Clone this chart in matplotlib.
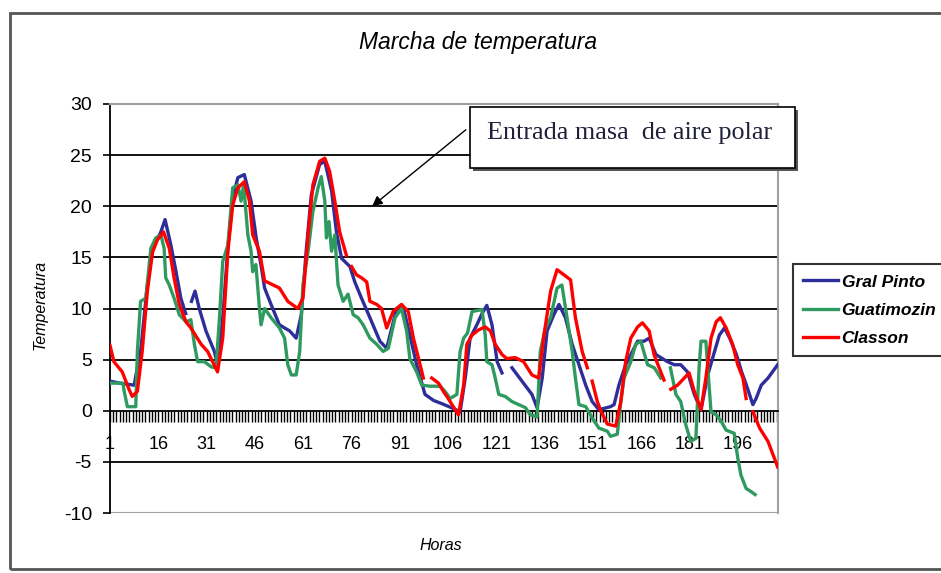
import matplotlib
matplotlib.use('Agg')
import matplotlib.pyplot as plt
from matplotlib.patches import Rectangle

plt.rcParams['axes.unicode_minus'] = False
nan = float('nan')

# hora (eje de categorias) y temperatura, por estacion
horas_pinto = [1, 4, 8.5, 10.6, 12.5, 14.2, 16.8, 18.1, 19.9, 21.5, 23, 24.5, 25.4, 26.3, 27.4, 28.7,
               30.8, 33.4, 34.4, 36, 37.6, 39.1, 40.7, 42.7, 44.8, 46.4, 48, 49, 51, 53.6, 56.8, 58.8,
               60.4, 61.9, 63.5, 66.1, 67.7, 69.8, 71.3, 72.9, 75.5, 77, 79.1, 81.7, 84.8, 86.9, 90,
               92, 94.1, 96.2, 98.8, 101.5, 104, 107, 109.7, 111.3, 112.8, 114.9, 116.5, 118, 119.6,
               121.2, 122.7, 123.8, 125.8, 128.9, 132, 133.6, 135.2, 136.7, 138.8, 140.4, 142.4, 144.5,
               146.6, 148.7, 150.7, 152.8, 156.4, 157.5, 159, 161.1, 163.2, 164.8, 166.8, 168.4, 170.5,
               172.5, 174.1, 176.2, 178.2, 180.3, 182.4, 184.5, 186.6, 188.7, 190.2, 191.8, 193.4,
               195.5, 197.1, 198.6, 200.6, 201.6, 203.2, 205.3, 208.3]
temp_pinto = [2.9, 2.7, 2.5, 6.1, 12.0, 15.8, 17.5, 18.7, 16.2, 13.6, 11.0, 9.5, nan, 10.7, 11.7, 10.0,
              7.8, 5.8, 4.5, 9.1, 16.0, 20.8, 22.8, 23.1, 20.5, 16.9, 14.0, 12.0, 10.4, 8.4, 7.8, 7.1,
              9.4, 15.6, 21.1, 24.1, 24.4, 21.5, 17.5, 14.9, 14.1, 12.6, 11.0, 9.1, 6.8, 6.1, 10.0,
              10.2, 7.4, 4.5, 1.6, 1.0, 0.7, 0.3, -0.1, 3.2, 7.1, 8.4, 9.5, 10.3, 8.4,
              4.8, 3.7, nan, 4.2, 2.9, 1.6, 0.3, 3.2, 7.8, 9.4, 10.4, 9.1, 6.5,
              4.5, 2.5, 0.9, 0.1, 0.4, 0.6, 2.5, 4.5, 5.8, 6.8, 6.8, 7.1, 5.5,
              5.1, 4.8, 4.5, 4.5, 3.8, 1.6, 0.1, 3.5, 5.8, 7.4, 8.1, 7.1,
              5.5, 3.8, 2.5, 0.6, 1.2, 2.5, 3.2, 4.5]

horas_guat = [1, 5, 5.4, 6.4, 9, 9.5, 10.5, 12.1, 13.7, 15.2, 16.8, 17.8, 18.3, 19.4, 20.9, 22.5,
              24.6, 26.1, 27.2, 28.2, 30.3, 32.4, 33.9, 35, 36, 37.6, 39.1, 40.7, 41.7, 42.5, 43.8,
              44.8, 45.3, 46.3, 47.4, 47.9, 49, 51, 53.6, 55.2, 56.2, 57.3, 58.8, 59.9, 60.9, 62.5,
              64, 65.6, 66.6, 67.7, 68.2, 69, 69.8, 70.8, 71.8, 73.4, 74.9, 76.5, 78, 79.6, 81.7,
              83.8, 85.8, 87.4, 89.5, 91.5, 93.1, 94.1, 96.2, 97.8, 100.4, 103.5, 105, 106.6, 108.7,
              109.7, 110.8, 112, 113.4, 114.9, 116.5, 117.5, 118, 119.6, 120.6, 121.7, 123.7, 125.8,
              127.9, 130, 131.5, 133.6, 134.6, 136.2, 137.8, 139.8, 141.3, 142.9, 144.5, 145.5,
              146.6, 148.7, 150.7, 152.8, 155.4, 156.4, 158.5, 159.6, 160.6, 162.7, 164.2, 165.8,
              167.9, 170, 172, 173.5, 175, 176.7, 178.2, 179.8, 181.3, 182.9, 183.9, 184.5, 186,
              186.6, 187.6, 189.2, 190.7, 192.3, 194.8, 195.9, 196.9, 198.5, 200, 201.3]
temp_guat = [2.7, 2.7, 1.9, 0.4, 0.4, 5.8, 10.7, 11.0, 15.9, 16.9, 17.2, 15.9, 13.0, 12.3, 11.0, 9.4,
             8.7, 8.9, 6.5, 4.8, 4.8, 4.3, 4.2, 9.1, 14.6, 16.2, 21.8, 22.1, 20.5, 22.1, 17.2,
             15.6, 13.6, 14.3, 10.0, 8.4, 10.0, 9.1, 8.1, 7.1, 4.5, 3.5, 3.5, 5.8, 12.3, 15.6,
             19.5, 21.8, 22.9, 20.5, 16.9, 18.5, 15.6, 17.2, 12.3, 10.7, 11.4, 9.4, 9.1, 8.4, 7.1,
             6.5, 5.8, 6.1, 9.1, 10.0, 7.8, 5.1, 3.8, 2.5, 2.4, 2.4, 1.9, 1.2, 1.6,
             5.8, 7.1, 7.6, 9.7, 9.8, 9.9, 7.4, 4.8, 4.5, 3.2, 1.6, 1.4, 0.9,
             0.6, 0.3, -0.4, -0.6, 5.8, 8.1, 9.1, 12.0, 12.3, 9.1, 5.8, 3.2,
             0.6, 0.4, -0.7, -1.7, -2.0, -2.5, -2.3, 0.9, 3.2, 4.8, 6.5, 6.8,
             4.5, 4.2, 3.2, nan, 4.2, 1.6, 0.9, -1.4, -3.0, -2.7, 4.2, 6.8, 6.8,
             4.2, -0.1, -0.4, -1.0, -1.9, -2.2, -4.6, -6.3, -7.6, -7.9, -8.2]

horas_classon = [1, 2.2, 4.8, 6.9, 7.9, 9.5, 11, 12.6, 14.2, 15.7, 17.6, 19.4, 20.9, 22.5, 24.6, 26.1,
                 29.3, 31.3, 34.4, 36, 37.6, 39.1, 40.7, 42.7, 44.3, 45.3, 47.4, 49, 51, 53.6, 56.2,
                 59.3, 60.9, 62.5, 64, 66.1, 67.7, 69.2, 70.8, 72.3, 74.4, 75.2, 76, 77.5, 79.1, 80.7,
                 81.7, 83.8, 85.3, 86.9, 88.9, 91.5, 93.6, 95.2, 96.8, 98.3, 99.5, 100.9, 103, 104.5,
                 106, 109.2, 110.8, 111.8, 113.4, 115.4, 117.5, 119.1, 120.6, 122.7, 124.2, 126.8,
                 129.4, 132, 134.1, 135.6, 137.8, 139.8, 141.9, 144, 145.5, 147.6, 149.2, 149.9, 150.7,
                 152.3, 153.5, 155.4, 158, 159.6, 161.1, 162.7, 164.8, 166.3, 168.4, 169.9, 171.5, 173,
                 174, 175.1, 177.2, 179.3, 180.8, 182.4, 184.5, 186, 187.6, 189.2, 190.5, 192.3, 194.3,
                 195.9, 197.5, 198.5, 199.5, 200.6, 202.7, 205.3, 208.3]
temp_classon = [6.4, 4.8, 3.8, 2.1, 1.4, 1.9, 5.8, 11.7, 15.5, 16.7, 17.5, 15.9, 13.0, 10.4, 8.7, 8.1,
                6.5, 5.8, 3.8, 7.1, 15.6, 20.1, 21.8, 22.4, 20.5, 17.2, 15.6, 12.7, 12.4, 12.0, 10.7,
                10.0, 11.0, 17.2, 22.1, 24.4, 24.7, 23.4, 20.5, 17.5, 15.2, nan, 14.1, 13.3, 13.0, 12.6,
                10.7, 10.4, 10.0, 8.1, 9.7, 10.4, 9.7, 7.1, 5.1, 3.2, nan, 3.2, 2.7, 1.9,
                1.2, -0.4, 2.5, 6.5, 7.4, 7.9, 8.2, 7.8, 6.5, 5.5, 5.1, 5.2,
                4.8, 3.5, 3.2, 7.1, 11.7, 13.8, 13.3, 12.8, 9.1, 5.8, 4.2, nan, 2.9,
                0.9, -0.1, -1.3, -1.5, 0.9, 4.8, 7.1, 8.2, 8.6, 7.8, 5.5, 4.2, 3.0,
                nan, 2.1, 2.5, 3.2, 3.7, 1.9, 0.1, 3.2, 7.1, 8.7, 9.1, 8.1, 6.5,
                4.5, 3.2, 1.2, nan, -0.1, -1.7, -3.0, -5.5]

etiquetas_x = list(range(1, 197, 15))
W, H = 941, 573

fig = plt.figure(figsize=(9.41, 5.73), dpi=100)
ax = fig.add_axes([110 / W, 1 - 513 / H, 668 / W, 409 / H])

# lineas de division horizontales
for y in [-5, 5, 10, 15, 20, 25]:
    ax.axhline(y, color='black', lw=1.3, zorder=1)
ax.axhline(-10, color='#a0a0a0', lw=1.5, zorder=1)

ax.plot(horas_pinto, temp_pinto, color='#2e2e9a', lw=2.4, label='Gral Pinto', zorder=3)
ax.plot(horas_guat, temp_guat, color='#2f9a60', lw=2.4, label='Guatimozin', zorder=4)
ax.plot(horas_classon, temp_classon, color='#ff0000', lw=2.4, label='Classon', zorder=5)

ax.set_xlim(1, 208.4)
ax.set_ylim(-10, 30)
ax.spines['bottom'].set_position(('data', 0))
ax.spines['bottom'].set_linewidth(1.3)
ax.spines['left'].set_linewidth(1.3)
ax.spines['top'].set_color('#a0a0a0')
ax.spines['right'].set_color('#a0a0a0')
ax.spines['top'].set_linewidth(1.5)
ax.spines['right'].set_linewidth(1.5)

ax.set_xticks(range(1, 209))
ax.set_xticklabels([str(h) if h in etiquetas_x else '' for h in range(1, 209)])
ax.tick_params(axis='x', direction='out', length=8, width=1, pad=10, labelsize=13)
ax.set_yticks(range(-10, 31, 5))
ax.tick_params(axis='y', direction='out', length=5, width=1.2, pad=8, labelsize=14)
for t in ax.get_xticklabels() + ax.get_yticklabels():
    t.set_family('Liberation Sans')

fig.text(478 / W, 1 - 43 / H, 'Marcha de temperatura', ha='center', va='center',
         style='italic', fontsize=16.5, family='Liberation Sans')
fig.text(40 / W, 1 - 305 / H, 'Temperatura', ha='center', va='center', rotation=90,
         style='italic', fontsize=11.5, family='Liberation Sans')
fig.text(441 / W, 1 - 545 / H, 'Horas', ha='center', va='center',
         style='italic', fontsize=11.5, family='Liberation Sans')

leg = fig.legend(loc='upper left', bbox_to_anchor=(793 / W, 1 - 264 / H), fancybox=False,
                 edgecolor='black', handlelength=2.0, handletextpad=0.2,
                 labelspacing=0.75, borderpad=0.6, borderaxespad=0,
                 prop={'family': 'Liberation Sans', 'weight': 'bold', 'style': 'italic', 'size': 12.5})
leg.get_frame().set_linewidth(1.5)

# cuadro de texto con sombra y flecha
fig.patches.append(Rectangle((473 / W, 1 - 171 / H), 325 / W, 61 / H, transform=fig.transFigure,
                             facecolor='#555555', edgecolor='none', zorder=5))
fig.patches.append(Rectangle((470 / W, 1 - 168 / H), 325 / W, 61 / H, transform=fig.transFigure,
                             facecolor='white', edgecolor='black', lw=1.2, zorder=6))
fig.text(487 / W, 1 - 133 / H, 'Entrada masa  de aire polar', ha='left', va='center',
         family='Liberation Serif', fontsize=18.8, color='#20203c', zorder=7)
ax.annotate('', xy=(370 / W, 1 - 208 / H), xycoords='figure fraction',
            xytext=(468 / W, 1 - 128 / H), textcoords='figure fraction',
            arrowprops=dict(arrowstyle='-|>', color='black', lw=1, mutation_scale=15), zorder=8)

# borde del area del grafico
fig.patches.append(Rectangle((10 / W, 1 - 569 / H), 945 / W, 556 / H, transform=fig.transFigure,
                             fill=False, edgecolor='#555555', lw=2))

fig.savefig('out.png', dpi=100)
